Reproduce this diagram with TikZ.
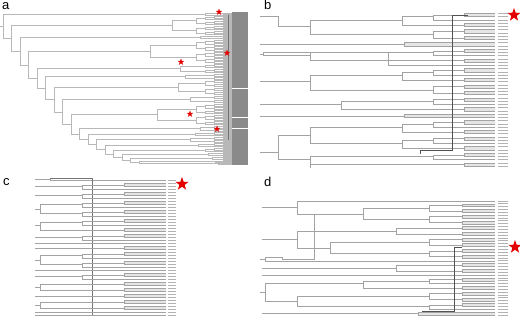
\documentclass[tikz,border=0pt]{standalone}
\usepackage{fontspec}
\setmainfont{Liberation Sans}
\usetikzlibrary{shapes.geometric}
\newcommand\depthof[2]{\ifnum#1>32 \def#2{6}\else\ifnum#1>16 \def#2{5}\else\ifnum#1>8 \def#2{4}\else\ifnum#1>4 \def#2{3}\else\ifnum#1>2 \def#2{2}\else\def#2{1}\fi\fi\fi\fi\fi}
\newcommand\sub[3]{%
\begingroup
\pgfmathtruncatemacro\na{ceil(#3/2)}%
\pgfmathtruncatemacro\nb{#3-\na}%
\pgfmathsetmacro\ya{#2+(\na-1)*\lsp/2}%
\pgfmathsetmacro\ytb{#2+\na*\lsp}%
\pgfmathsetmacro\yb{\ytb+(\nb-1)*\lsp/2}%
\ifnum\na=1 \edef\xa{\xleaf}\else\depthof\na\da\pgfmathsetmacro\xa{\xleaf-\ldx*\da}\fi
\ifnum\nb=1 \edef\xb{\xleaf}\else\depthof\nb\db\pgfmathsetmacro\xb{\xleaf-\ldx*\db}\fi
\ifnum#3=2 \fill[cherry] (#1,\ya) rectangle (\xleaf,\yb);\fi
\draw[br] (\xa,\ya) -| (#1,\yb) -- (\xb,\yb);
\ifnum\na>1 \edef\mynext{\noexpand\sub{\xa}{#2}{\na}}\mynext\fi
\ifnum\nb>1 \edef\mynext{\noexpand\sub{\xb}{\ytb}{\nb}}\mynext\fi
\endgroup}
\newcommand\cl[4]{%
\begingroup
\pgfmathsetmacro\ytop{\yz+#3*\lsp}%
\pgfmathsetmacro\yc{\ytop+(#4-1)*\lsp/2}%
\draw[br] (#1,\yc) -- (#2,\yc);
\ifnum#4>1 \edef\mynext{\noexpand\sub{#2}{\ytop}{#4}}\mynext\fi
\endgroup}
\begin{document}
\begin{tikzpicture}[x=1pt,y=-1pt,
 br/.style={draw=black!36,line width=0.5pt},
 cherry/.style={fill=black!10},
 dk/.style={draw=black!68,line width=0.5pt},
 lab/.style={fill=black!30},
 redstar/.style={star,star points=5,star point ratio=2.5,fill=red!90!black,draw=none,inner sep=0pt},
 plabel/.style={font=\fontsize{13}{13}\selectfont,inner sep=0pt,anchor=base west}]
\useasboundingbox[fill=white] (0,0) rectangle (520,318);

% ---------------- panel a ----------------
\node[plabel] (la) at (2,10) {a};
\begin{scope}[br/.style={draw=black!28,line width=0.42pt},cherry/.style={fill=black!14}]
\def\yz{13}\def\lsp{1}\def\xleaf{232}\def\ldx{9}
\fill[black!46] (232,12.5) rectangle (248,165.5);
\foreach \yy in {88,117,128} \draw[white,line width=0.6pt] (226,\yy) -- (248,\yy);
\draw[br] (0,26.2) -- (3,26.2);
\foreach \xk/\ya/\yn/\xn in {3/14/38.4/11.5,11.5/25.5/51.2/20,20/37.5/64.9/28.5,28.5/51.5/78.3/37,37/68.5/88.1/45.5,45.5/76.5/99.7/54,54/87.5/111.8/62.5,62.5/99.5/124.2/71,71/114.5/133.9/79.5,79.5/128.5/139.2/88,88/134/144.4/96.5,96.5/139.5/149.4/105,105/145/153.75/113.5,113.5/150/157.5/122,122/154.5/160.5/130.5,130.5/158.5/162.5/139}
  \draw[br] (\xk,\ya) -- (\xk,\yn) -- (\xn,\yn);
\draw[br] (139,161.5) -- (139,163.5);
\foreach \xk/\nx/\ii/\cn in {3/205/0/3,11.5/172/3/20,20/200/23/4,28.5/150/27/24,37/180/51/10,45.5/185/61/6,54/178/67/16,62.5/190/83/8,71/157/91/22,79.5/200/113/6,88/195/119/5,96.5/190/124/6,105/198/130/5,113.5/205/135/5,122/208/140/4,130.5/212/144/4,139/215/148/2,139/218/150/2}
  \cl{\xk}{\nx}{\ii}{\cn};
\draw[dk,draw=black!55] (228,15) -- (228,140);
\end{scope}
\node[redstar,minimum size=7] (sa1) at (219,12) {};
\node[redstar,minimum size=7] (sa2) at (227,53) {};
\node[redstar,minimum size=7] (sa3) at (181,62) {};
\node[redstar,minimum size=7] (sa4) at (190,114) {};
\node[redstar,minimum size=7] (sa5) at (217,129) {};

% ---------------- panel b ----------------
\node[plabel] (lb) at (264,10) {b};
\begin{scope}
\def\yz{13.5}\def\lsp{3.25}\def\xleaf{495}\def\ldx{31}
\foreach \ii in {0,...,47} \fill[lab] (498,13.5+3.25*\ii-0.45) rectangle ++(10,0.9);
\draw[br] (260,16) -| (278,26.5);
\cl{278}{310}{0}{9}
\cl{260}{404}{9}{2}
\draw[br] (260,54) -- (263,54);
\draw[br] (263,52) -- (263,55.75);
\draw[br] (263,52) -- (388,52) -- (388,65.5) -- (495,65.5);
\cl{263}{310}{11}{5}
\cl{260}{310}{17}{9}
\cl{260}{341}{26}{5}
\cl{260}{404}{31}{2}
\draw[br] (260,152) -- (278,152);
\draw[br] (278,135.375) -- (278,159.75);
\cl{278}{310}{33}{10}
\cl{278}{310}{43}{5}
\draw[br] (310,159.75) -- (310,168);
\draw[dk] (468,15) -- (452,15) -- (452,150) -- (420,150) -- (420,154);
\end{scope}
\node[redstar,minimum size=14] (sb) at (514,15) {};

% ---------------- panel c ----------------
\node[plabel] (lc) at (3,186) {c};
\begin{scope}
\def\yz{180.5}\def\lsp{3}\def\xleaf{166}\def\ldx{42}
\foreach \ii in {0,...,45} \fill[lab] (168,180.5+3*\ii-0.45) rectangle ++(8,0.9);
\draw[br] (35,179.5) -- (50,179.5);
\draw[br] (50,178.5) -- (50,180.5);
\draw[br] (50,180.5) -- (166,180.5);
\draw[dk,draw=black!55] (50,178.5) -- (92,178.5) -- (92,316);
\foreach \nx/\ii/\cn in {82/1/3,82/4/3,40/7/6,40/13/5,82/18/3,166/21/1,124/22/2,40/24/6,166/30/1,82/31/3,40/34/4,124/38/2,40/40/4,166/44/1,166/45/1}
  \cl{35}{\nx}{\ii}{\cn};
\end{scope}
\node[redstar,minimum size=14] (sc) at (182,184) {};

% ---------------- panel d ----------------
\node[plabel] (ld) at (264,187) {d};
\begin{scope}
\def\yz{201}\def\lsp{2.85}\def\xleaf{495}\def\ldx{33}
\foreach \ii in {0,...,40} \fill[lab] (498,201+2.85*\ii-0.45) rectangle ++(10,0.9);
% d1
\draw[br] (262,207.4) -- (297,207.4);
\draw[br] (297,201) -- (297,213.825);
\draw[br] (297,201) -- (495,201);
\cl{297}{363}{1}{8}
% d2
\draw[br] (262,239.5) -- (297,239.5);
\draw[br] (297,230.925) -- (297,248.025);
\cl{297}{396}{9}{4}
\cl{297}{330}{13}{8}
% d3
\draw[br] (260,259.2) -- (265,259.2);
\draw[br] (265,257.5) -- (265,260.85) -- (495,260.85);
\draw[br] (265,257.5) -- (282,257.5) -- (282,259.5) -- (314,259.5) -- (314,213.825);
% d4, d5
\cl{262}{396}{22}{4}
\cl{262}{495}{26}{1}
% d6
\draw[br] (260,292.2) -- (265,292.2);
\draw[br] (265,283.65) -- (265,300.75);
\cl{265}{363}{27}{5}
\cl{265}{297}{32}{7}
% d7
\cl{262}{418}{39}{2}
\draw[dk] (462,247) -- (454,247) -- (454,311) -- (422,311);
\end{scope}
\node[redstar,minimum size=14] (sd) at (515,247) {};
\end{tikzpicture}
\end{document}
